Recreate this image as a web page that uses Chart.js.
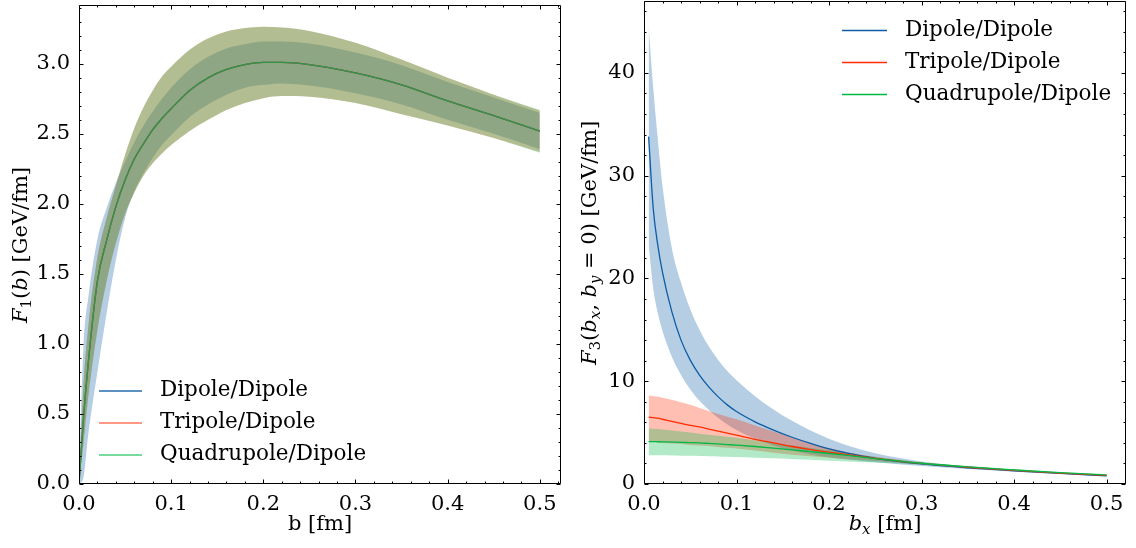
<!DOCTYPE html>
<html><head><meta charset="utf-8">
<script src="https://cdn.jsdelivr.net/npm/chart.js@4.4.0/dist/chart.umd.min.js"></script>
<style>
html,body{margin:0;padding:0;background:#fff;}
#wrap{position:relative;width:1136px;height:548px;overflow:hidden;}
canvas{position:absolute;top:0;}
</style></head><body>
<div id="wrap">
<canvas id="c1" width="568" height="548" style="left:0;width:568px;height:548px"></canvas>
<canvas id="c2" width="568" height="548" style="left:568px;width:568px;height:548px"></canvas>
</div>
<script>
// ---------- data ----------
const seriesNames = ['Dipole/Dipole', 'Tripole/Dipole', 'Quadrupole/Dipole'];
const xTicks = [0, 0.1, 0.2, 0.3, 0.4, 0.5];
const leftYTicks = [0, 0.5, 1.0, 1.5, 2.0, 2.5, 3.0];
const rightYTicks = [0, 10, 20, 30, 40];

// Left panel: F1(b)
const b = [0, 0.005, 0.01, 0.02, 0.03, 0.04, 0.05, 0.06, 0.07, 0.08, 0.09, 0.1, 0.12, 0.14, 0.16, 0.18, 0.2, 0.22, 0.25, 0.3, 0.35, 0.4, 0.45, 0.5];
const f1Dipole     = [0, 0.48, 0.86, 1.45, 1.74, 1.98, 2.17, 2.32, 2.43, 2.53, 2.61, 2.68, 2.81, 2.9, 2.96, 2.995, 3.01, 3.01, 2.995, 2.935, 2.85, 2.735, 2.63, 2.52];
const f1Tripole    = [0, 0.48, 0.86, 1.45, 1.74, 1.98, 2.17, 2.32, 2.43, 2.53, 2.61, 2.68, 2.81, 2.9, 2.96, 2.995, 3.01, 3.01, 2.995, 2.935, 2.85, 2.735, 2.63, 2.52];
const f1Quad       = [0, 0.48, 0.86, 1.45, 1.74, 1.98, 2.17, 2.32, 2.43, 2.53, 2.61, 2.68, 2.81, 2.9, 2.96, 2.995, 3.01, 3.01, 2.995, 2.935, 2.85, 2.735, 2.63, 2.52];
const f1DipoleUp   = [0.1, 1.0, 1.33, 1.75, 1.97, 2.15, 2.3, 2.44, 2.56, 2.66, 2.75, 2.83, 2.96, 3.05, 3.11, 3.14, 3.16, 3.16, 3.145, 3.08, 2.99, 2.87, 2.76, 2.65];
const f1DipoleLo   = [0, 0.05, 0.35, 0.8, 1.22, 1.6, 1.9, 2.09, 2.22, 2.33, 2.42, 2.49, 2.62, 2.71, 2.78, 2.83, 2.85, 2.86, 2.845, 2.79, 2.71, 2.60, 2.50, 2.39];
const f1TripoleUp  = [0, 0.72, 1.12, 1.62, 1.9, 2.13, 2.35, 2.54, 2.69, 2.81, 2.91, 2.98, 3.1, 3.18, 3.23, 3.255, 3.265, 3.26, 3.235, 3.15, 3.03, 2.9, 2.78, 2.666];
const f1TripoleLo  = [0, 0.3, 0.62, 1.1, 1.45, 1.72, 1.93, 2.08, 2.2, 2.29, 2.36, 2.42, 2.52, 2.6, 2.67, 2.72, 2.755, 2.77, 2.765, 2.72, 2.64, 2.56, 2.47, 2.37];
const f1QuadUp     = [0, 0.72, 1.12, 1.62, 1.9, 2.13, 2.35, 2.54, 2.69, 2.81, 2.91, 2.98, 3.1, 3.18, 3.23, 3.255, 3.265, 3.26, 3.235, 3.15, 3.03, 2.9, 2.78, 2.67];
const f1QuadLo     = [0, 0.3, 0.62, 1.1, 1.45, 1.72, 1.93, 2.08, 2.2, 2.29, 2.36, 2.42, 2.52, 2.6, 2.67, 2.72, 2.755, 2.77, 2.765, 2.72, 2.64, 2.56, 2.47, 2.365];

// Right panel: F3(bx, by=0)
const bx = [0.005, 0.01, 0.015, 0.02, 0.03, 0.04, 0.05, 0.06, 0.07, 0.08, 0.09, 0.1, 0.12, 0.14, 0.16, 0.18, 0.2, 0.22, 0.25, 0.3, 0.35, 0.4, 0.45, 0.5];
const f3Dipole    = [33.8, 26.8, 23.2, 20.6, 16.8, 14.0, 12.05, 10.6, 9.45, 8.5, 7.7, 7.05, 6.05, 5.25, 4.55, 3.95, 3.42, 3.0, 2.5, 1.95, 1.58, 1.29, 1.03, 0.8];
const f3DipoleUp  = [44.6, 38.5, 33.5, 29.0, 23.0, 19.6, 17.0, 15.0, 13.4, 12.1, 11.0, 10.1, 8.55, 7.25, 6.15, 5.2, 4.4, 3.75, 3.0, 2.2, 1.72, 1.38, 1.09, 0.85];
const f3DipoleLo  = [23.3, 19.0, 16.6, 14.9, 12.4, 10.6, 9.2, 8.1, 7.2, 6.45, 5.8, 5.25, 4.4, 3.75, 3.25, 2.88, 2.6, 2.38, 2.12, 1.75, 1.46, 1.2, 0.97, 0.76];
const f3Tripole   = [6.5, 6.45, 6.4, 6.3, 6.1, 5.9, 5.7, 5.55, 5.35, 5.15, 4.95, 4.75, 4.35, 4.0, 3.65, 3.35, 3.1, 2.85, 2.5, 2.0, 1.63, 1.33, 1.06, 0.84];
const f3TripoleUp = [8.6, 8.55, 8.5, 8.4, 8.2, 7.95, 7.7, 7.4, 7.1, 6.8, 6.55, 6.3, 5.7, 5.1, 4.5, 3.95, 3.5, 3.1, 2.65, 2.1, 1.7, 1.38, 1.1, 0.87];
const f3TripoleLo = [4.1, 4.1, 4.05, 4.0, 3.95, 3.9, 3.8, 3.75, 3.7, 3.6, 3.52, 3.45, 3.25, 3.05, 2.85, 2.7, 2.55, 2.4, 2.25, 1.9, 1.56, 1.28, 1.02, 0.81];
const f3Quad      = [4.12, 4.12, 4.11, 4.1, 4.08, 4.06, 4.03, 4.0, 3.95, 3.9, 3.84, 3.78, 3.65, 3.5, 3.33, 3.15, 2.97, 2.78, 2.47, 2.02, 1.66, 1.37, 1.1, 0.88];
const f3QuadUp    = [5.4, 5.38, 5.35, 5.3, 5.2, 5.1, 5.0, 4.9, 4.8, 4.7, 4.6, 4.5, 4.25, 4.0, 3.75, 3.5, 3.28, 3.02, 2.63, 2.12, 1.74, 1.44, 1.15, 0.93];
const f3QuadLo    = [2.8, 2.8, 2.8, 2.8, 2.78, 2.76, 2.74, 2.72, 2.7, 2.68, 2.65, 2.62, 2.56, 2.5, 2.43, 2.35, 2.27, 2.2, 2.08, 1.88, 1.58, 1.3, 1.05, 0.83];

// ---------- helpers ----------
const FONT = '"DejaVu Serif", "Liberation Serif", serif';
const BLUE = [12, 93, 165], RED = [255, 44, 0], GREEN = [0, 185, 69];
const rgba = (c, a) => `rgba(${c[0]},${c[1]},${c[2]},${a})`;
const pts = (xs, ys) => xs.map((x, i) => ({x: x, y: ys[i]}));

function band(xs, up, lo, col, order) {
  return [
    {data: pts(xs, up), fill: '+1', backgroundColor: rgba(col, 0.3), borderWidth: 0,
     borderColor: 'rgba(0,0,0,0)', pointRadius: 0, order: order, cubicInterpolationMode: 'monotone'},
    {data: pts(xs, lo), fill: false, borderWidth: 0, borderColor: 'rgba(0,0,0,0)',
     pointRadius: 0, order: order, cubicInterpolationMode: 'monotone'}
  ];
}
function line(xs, ys, color, order, label) {
  return {label: label, data: pts(xs, ys), borderColor: color, borderWidth: 1.3, pointRadius: 0,
          fill: false, order: order, cubicInterpolationMode: 'monotone'};
}

// frame with inward major/minor ticks on all four sides
const framePlugin = {
  id: 'frame',
  afterDatasetsDraw(chart, args, o) {
    const {ctx, chartArea: a, scales: {x, y}} = chart;
    ctx.save();
    ctx.strokeStyle = '#000';
    ctx.lineWidth = 1;
    const L = Math.round(a.left) + 0.5, R = Math.round(a.right) - 0.5;
    const T = Math.round(a.top) + 0.5, B = Math.round(a.bottom) - 0.5;
    ctx.beginPath();
    ctx.rect(L, T, R - L, B - T);
    ctx.stroke();
    ctx.beginPath();
    const nx = Math.floor(x.max / o.xMinor + 1e-6);
    for (let i = 0; i <= nx; i++) {
      const v = i * o.xMinor;
      const major = Math.abs(v / o.xMajor - Math.round(v / o.xMajor)) < 1e-6;
      const len = major ? o.majorLen : o.minorLen;
      const px = Math.round(x.getPixelForValue(v)) + 0.5;
      ctx.moveTo(px, B); ctx.lineTo(px, B - len);
      ctx.moveTo(px, T); ctx.lineTo(px, T + len);
    }
    const ny = Math.floor(y.max / o.yMinor + 1e-6);
    for (let i = 0; i <= ny; i++) {
      const v = i * o.yMinor;
      const major = Math.abs(v / o.yMajor - Math.round(v / o.yMajor)) < 1e-6;
      const len = major ? o.majorLen : o.minorLen;
      const py = Math.round(y.getPixelForValue(v)) + 0.5;
      ctx.moveTo(L, py); ctx.lineTo(L + len, py);
      ctx.moveTo(R, py); ctx.lineTo(R - len, py);
    }
    ctx.stroke();
    ctx.restore();
  }
};

function drawRich(ctx, segs, cx, cy, rot, size) {
  ctx.save();
  ctx.translate(cx, cy);
  if (rot) ctx.rotate(-Math.PI / 2);
  const fonts = segs.map(s => `${s.i ? 'italic ' : ''}${s.sub ? Math.round(size * 0.7) : size}px ${FONT}`);
  let w = 0;
  const ws = segs.map((s, k) => { ctx.font = fonts[k]; const m = ctx.measureText(s.t).width; w += m; return m; });
  let x = -w / 2;
  ctx.fillStyle = '#000';
  ctx.textAlign = 'left';
  ctx.textBaseline = 'alphabetic';
  const base = size * 0.36;
  segs.forEach((s, k) => {
    ctx.font = fonts[k];
    ctx.fillText(s.t, x, base + (s.sub ? size * 0.22 : 0));
    x += ws[k];
  });
  ctx.restore();
}
const labelPlugin = {
  id: 'richLabels',
  afterDraw(chart, args, o) {
    (o.items || []).forEach(it => drawRich(chart.ctx, it.segs, it.x, it.y, it.rot, it.size));
  }
};
const legendPlugin = {
  id: 'innerLegend',
  afterDraw(chart, args, o) {
    const ctx = chart.ctx;
    ctx.save();
    o.labels.forEach((lab, k) => {
      const y = o.y + k * o.rowH;
      ctx.strokeStyle = o.colors[k];
      ctx.lineWidth = o.lw;
      ctx.beginPath(); ctx.moveTo(o.x, y + 0.5); ctx.lineTo(o.x + o.len, y + 0.5); ctx.stroke();
      ctx.fillStyle = '#000';
      ctx.font = `${o.size}px ${FONT}`;
      ctx.textAlign = 'left';
      ctx.textBaseline = 'middle';
      ctx.fillText(lab, o.tx, y);
    });
    ctx.restore();
  }
};

function axisOpts(min, max, ticks, fmt, fit, isX, pad) {
  return {
    type: 'linear', min: min, max: max,
    border: {display: false},
    grid: {display: false, drawTicks: false},
    afterBuildTicks: s => { s.ticks = ticks.map(v => ({value: v})); },
    ticks: {padding: pad, color: '#000', font: {family: FONT, size: 21}, callback: fmt,
            maxRotation: 0, minRotation: 0, autoSkip: false, includeBounds: false},
    afterFit: s => {
      if (isX) s.height = fit; else s.width = fit;
      s.paddingTop = 0; s.paddingBottom = 0; s.paddingLeft = 0; s.paddingRight = 0;
    }
  };
}

function makeChart(id, datasets, cfg) {
  return new Chart(document.getElementById(id), {
    type: 'line',
    data: {datasets: datasets},
    options: {
      responsive: false, animation: false, events: [],
      layout: {padding: cfg.padding},
      plugins: {
        legend: {display: false}, tooltip: {enabled: false},
        frame: cfg.frame, richLabels: cfg.labels, innerLegend: cfg.legend
      },
      scales: {
        x: axisOpts(0, cfg.xmax, xTicks, v => v.toFixed(1), 64, true, 8),
        y: axisOpts(0, cfg.ymax, cfg.yTicks, cfg.yfmt, cfg.yw, false, 9)
      }
    },
    plugins: [framePlugin, labelPlugin, legendPlugin]
  });
}

// ---------- left chart ----------
const leftLineCols = [rgba(BLUE, 0.9), rgba(RED, 0.65), rgba(GREEN, 0.7)];
makeChart('c1', [
  ...band(b, f1DipoleUp, f1DipoleLo, BLUE, 6),
  ...band(b, f1TripoleUp, f1TripoleLo, RED, 5),
  ...band(b, f1QuadUp, f1QuadLo, GREEN, 4),
  line(b, f1Dipole, leftLineCols[0], 3, seriesNames[0]),
  line(b, f1Tripole, leftLineCols[1], 2, seriesNames[1]),
  line(b, f1Quad, leftLineCols[2], 1, seriesNames[2])
], {
  padding: {left: 0, right: 7, top: 5, bottom: 0},
  xmax: 0.523, ymax: 3.42, yTicks: leftYTicks, yfmt: v => v.toFixed(1), yw: 79,
  frame: {xMajor: 0.1, xMinor: 0.02, yMajor: 0.5, yMinor: 0.1, majorLen: 4, minorLen: 2},
  labels: {items: [
    {segs: [{t: 'b [fm]'}], x: 320, y: 522, rot: false, size: 21},
    {segs: [{t: 'F', i: 1}, {t: '1', sub: 1}, {t: '('}, {t: 'b', i: 1}, {t: ') [GeV/fm]'}], x: 19, y: 245, rot: true, size: 21}
  ]},
  legend: {labels: seriesNames, colors: leftLineCols, x: 99, len: 43, tx: 160, y: 390.5, rowH: 32, lw: 1.5, size: 21.5}
});

// ---------- right chart ----------
const rightLineCols = [rgba(BLUE, 1), rgba(RED, 1), rgba(GREEN, 1)];
makeChart('c2', [
  ...band(bx, f3DipoleUp, f3DipoleLo, BLUE, 6),
  ...band(bx, f3TripoleUp, f3TripoleLo, RED, 5),
  ...band(bx, f3QuadUp, f3QuadLo, GREEN, 4),
  line(bx, f3Dipole, rightLineCols[0], 3, seriesNames[0]),
  line(bx, f3Tripole, rightLineCols[1], 2, seriesNames[1]),
  line(bx, f3Quad, rightLineCols[2], 1, seriesNames[2])
], {
  padding: {left: 0, right: 10, top: 1, bottom: 0},
  xmax: 0.521, ymax: 47, yTicks: rightYTicks, yfmt: v => String(v), yw: 76,
  frame: {xMajor: 0.1, xMinor: 0.02, yMajor: 10, yMinor: 2, majorLen: 4, minorLen: 2},
  labels: {items: [
    {segs: [{t: 'b', i: 1}, {t: 'x', i: 1, sub: 1}, {t: ' [fm]'}], x: 317, y: 522, rot: false, size: 21},
    {segs: [{t: 'F', i: 1}, {t: '3', sub: 1}, {t: '('}, {t: 'b', i: 1}, {t: 'x', i: 1, sub: 1}, {t: ', '},
            {t: 'b', i: 1}, {t: 'y', i: 1, sub: 1}, {t: ' = 0)'}, {t: ' [GeV/fm]'}], x: 20, y: 243, rot: true, size: 21}
  ]},
  legend: {labels: seriesNames, colors: rightLineCols, x: 274, len: 45, tx: 337, y: 30, rowH: 32, lw: 1.3, size: 21.5}
});
</script>
</body></html>
